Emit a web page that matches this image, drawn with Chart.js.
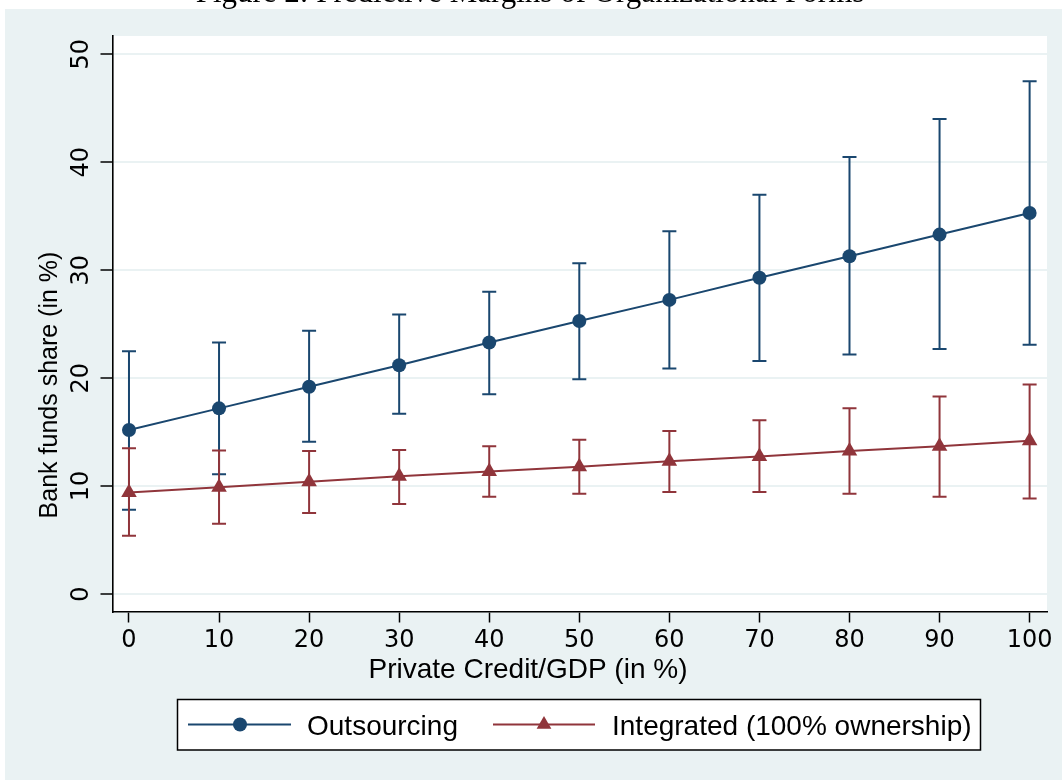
<!DOCTYPE html>
<html>
<head>
<meta charset="utf-8">
<script src="https://cdn.jsdelivr.net/npm/chart.js@4.4.0/dist/chart.umd.min.js"></script>
<style>
html, body { margin: 0; padding: 0; background: #fff; overflow: hidden; }
canvas { display: block; }
</style>
</head>
<body>
<canvas id="chart" width="1062" height="780"></canvas>
<script>
// private credit / GDP (x values)
const credit = [0, 10, 20, 30, 40, 50, 60, 70, 80, 90, 100];

// Outsourcing: margin and 95% CI
const outMean = [15.2, 17.2, 19.2, 21.2, 23.3, 25.3, 27.25, 29.3, 31.3, 33.3, 35.3];
const outLow  = [7.8, 11.1, 14.1, 16.7, 18.5, 19.9, 20.9, 21.6, 22.2, 22.7, 23.1];
const outHigh = [22.5, 23.3, 24.4, 25.9, 28.0, 30.65, 33.6, 37.0, 40.5, 44.0, 47.5];

// Integrated (100% ownership): margin and 95% CI
const intMean = [9.4, 9.9, 10.4, 10.9, 11.35, 11.8, 12.3, 12.75, 13.25, 13.7, 14.2];
const intLow  = [5.4, 6.5, 7.5, 8.35, 9.0, 9.3, 9.45, 9.45, 9.3, 9.0, 8.85];
const intHigh = [13.5, 13.3, 13.25, 13.35, 13.7, 14.3, 15.1, 16.1, 17.2, 18.3, 19.4];

const xTicks = [0, 10, 20, 30, 40, 50, 60, 70, 80, 90, 100];
const yTicks = [0, 10, 20, 30, 40, 50];

const seriesNames = ["Outsourcing", "Integrated (100% ownership)"];
const figTitle = "Figure 2: Predictive Margins of Organizational Forms";
const xTitle = "Private Credit/GDP (in %)";
const yTitle = "Bank funds share (in %)";

const BLUE = "#1a476f";
const RED = "#90353b";
const BG = "#eaf2f3";

function pts(ys) {
    return credit.map((x, i) => ({ x: x, y: ys[i] }));
}

const bgPlugin = {
    id: "bg",
    beforeDraw(chart) {
        const ctx = chart.ctx;
        const a = chart.chartArea;
        ctx.save();
        ctx.fillStyle = "#fff";
        ctx.fillRect(0, 0, chart.width, chart.height);
        ctx.fillStyle = BG;
        ctx.fillRect(5, 9, chart.width - 5, chart.height - 9);
        ctx.fillStyle = "#fff";
        ctx.fillRect(a.left, a.top, a.right - a.left, a.bottom - a.top);
        ctx.restore();
    }
};

// confidence interval caps, drawn under the markers
const ciPlugin = {
    id: "ci",
    beforeDatasetsDraw(chart) {
        const ctx = chart.ctx;
        const xs = chart.scales.x, ys = chart.scales.y;
        const sets = [[outLow, outHigh, BLUE], [intLow, intHigh, RED]];
        ctx.save();
        ctx.lineWidth = 2;
        sets.forEach(([lo, hi, col]) => {
            ctx.strokeStyle = col;
            credit.forEach((c, i) => {
                const px = xs.getPixelForValue(c);
                const y1 = ys.getPixelForValue(lo[i]);
                const y2 = ys.getPixelForValue(hi[i]);
                ctx.beginPath();
                ctx.moveTo(px, y1); ctx.lineTo(px, y2);
                ctx.moveTo(px - 7, y1); ctx.lineTo(px + 7, y1);
                ctx.moveTo(px - 7, y2); ctx.lineTo(px + 7, y2);
                ctx.stroke();
            });
        });
        ctx.restore();
    }
};

const textPlugin = {
    id: "texts",
    afterDraw(chart) {
        const ctx = chart.ctx;
        const xs = chart.scales.x, ys = chart.scales.y;
        ctx.save();
        ctx.fillStyle = "#000";

        // figure title (cut off at the top)
        ctx.font = "31px 'Liberation Serif', 'Times New Roman', serif";
        ctx.textAlign = "center";
        ctx.textBaseline = "alphabetic";
        ctx.fillText(figTitle, 530, 2);

        // x tick labels
        ctx.font = "24px 'DejaVu Sans', sans-serif";
        xTicks.forEach(v => ctx.fillText(String(v), xs.getPixelForValue(v), 647));

        // y tick labels, rotated
        yTicks.forEach(v => {
            ctx.save();
            ctx.translate(88, ys.getPixelForValue(v));
            ctx.rotate(-Math.PI / 2);
            ctx.fillText(String(v), 0, 0);
            ctx.restore();
        });

        // axis titles
        ctx.font = "28px 'Liberation Sans', Arial, sans-serif";
        ctx.fillText(xTitle, 528, 678);
        ctx.save();
        ctx.font = "25px 'Liberation Sans', Arial, sans-serif";
        ctx.translate(57, 385);
        ctx.rotate(-Math.PI / 2);
        ctx.fillText(yTitle, 0, 0);
        ctx.restore();

        // legend
        ctx.fillStyle = "#fff";
        ctx.fillRect(177.5, 699.5, 803, 50.5);
        ctx.strokeStyle = "#000";
        ctx.lineWidth = 1.5;
        ctx.strokeRect(177.5, 699.5, 803, 50.5);

        ctx.lineWidth = 2;
        ctx.strokeStyle = BLUE;
        ctx.beginPath(); ctx.moveTo(188, 724.5); ctx.lineTo(291, 724.5); ctx.stroke();
        ctx.fillStyle = BLUE;
        ctx.beginPath(); ctx.arc(240, 724.5, 7, 0, Math.PI * 2); ctx.fill();

        ctx.strokeStyle = RED;
        ctx.beginPath(); ctx.moveTo(493, 724.5); ctx.lineTo(595, 724.5); ctx.stroke();
        ctx.fillStyle = RED;
        const r = 8.5, cx = 544, cy = 724.5;
        ctx.beginPath();
        ctx.moveTo(cx, cy - r);
        ctx.lineTo(cx + r * Math.sin(2 * Math.PI / 3), cy - r * Math.cos(2 * Math.PI / 3));
        ctx.lineTo(cx + r * Math.sin(4 * Math.PI / 3), cy - r * Math.cos(4 * Math.PI / 3));
        ctx.closePath();
        ctx.fill();

        ctx.fillStyle = "#000";
        ctx.font = "28px 'Liberation Sans', Arial, sans-serif";
        ctx.textAlign = "left";
        ctx.fillText(seriesNames[0], 307, 735);
        ctx.fillText(seriesNames[1], 612, 735);

        ctx.restore();
    }
};

const ctx = document.getElementById("chart").getContext("2d");

const chart = new Chart(ctx, {
    type: "line",
    data: {
        datasets: [
            {
                label: seriesNames[0],
                data: pts(outMean),
                borderColor: BLUE,
                backgroundColor: BLUE,
                borderWidth: 2,
                pointStyle: "circle",
                pointRadius: 7,
                pointBorderWidth: 0,
                tension: 0
            },
            {
                label: seriesNames[1],
                data: pts(intMean),
                borderColor: RED,
                backgroundColor: RED,
                borderWidth: 2,
                pointStyle: "triangle",
                pointRadius: 9,
                pointBorderWidth: 0,
                tension: 0
            }
        ]
    },
    options: {
        responsive: false,
        animation: false,
        devicePixelRatio: 1,
        layout: { padding: { top: 36, right: 15, left: 0, bottom: 108.5 } },
        plugins: {
            legend: { display: false },
            title: { display: false },
            tooltip: { enabled: false }
        },
        scales: {
            x: {
                type: "linear",
                min: -1.83,
                max: 101.93,
                afterBuildTicks: s => { s.ticks = xTicks.map(v => ({ value: v })); },
                afterFit: s => { s.height = 60; },
                grid: {
                    drawOnChartArea: false,
                    drawTicks: true,
                    tickLength: 11,
                    tickColor: "#000",
                    tickWidth: 1.5
                },
                border: { display: true, color: "#000", width: 1.6 },
                ticks: { color: "rgba(0,0,0,0)", font: { size: 23 } }
            },
            y: {
                type: "linear",
                min: -1.62,
                max: 51.7,
                afterBuildTicks: s => { s.ticks = yTicks.map(v => ({ value: v })); },
                afterFit: s => { s.width = 112.5; },
                grid: {
                    color: BG,
                    lineWidth: 2,
                    drawTicks: true,
                    tickLength: 12,
                    tickColor: "#000",
                    tickWidth: 1.5
                },
                border: { display: true, color: "#000", width: 1.6 },
                ticks: { color: "rgba(0,0,0,0)", font: { size: 23 } }
            }
        }
    },
    plugins: [bgPlugin, ciPlugin, textPlugin]
});
</script>
</body>
</html>
